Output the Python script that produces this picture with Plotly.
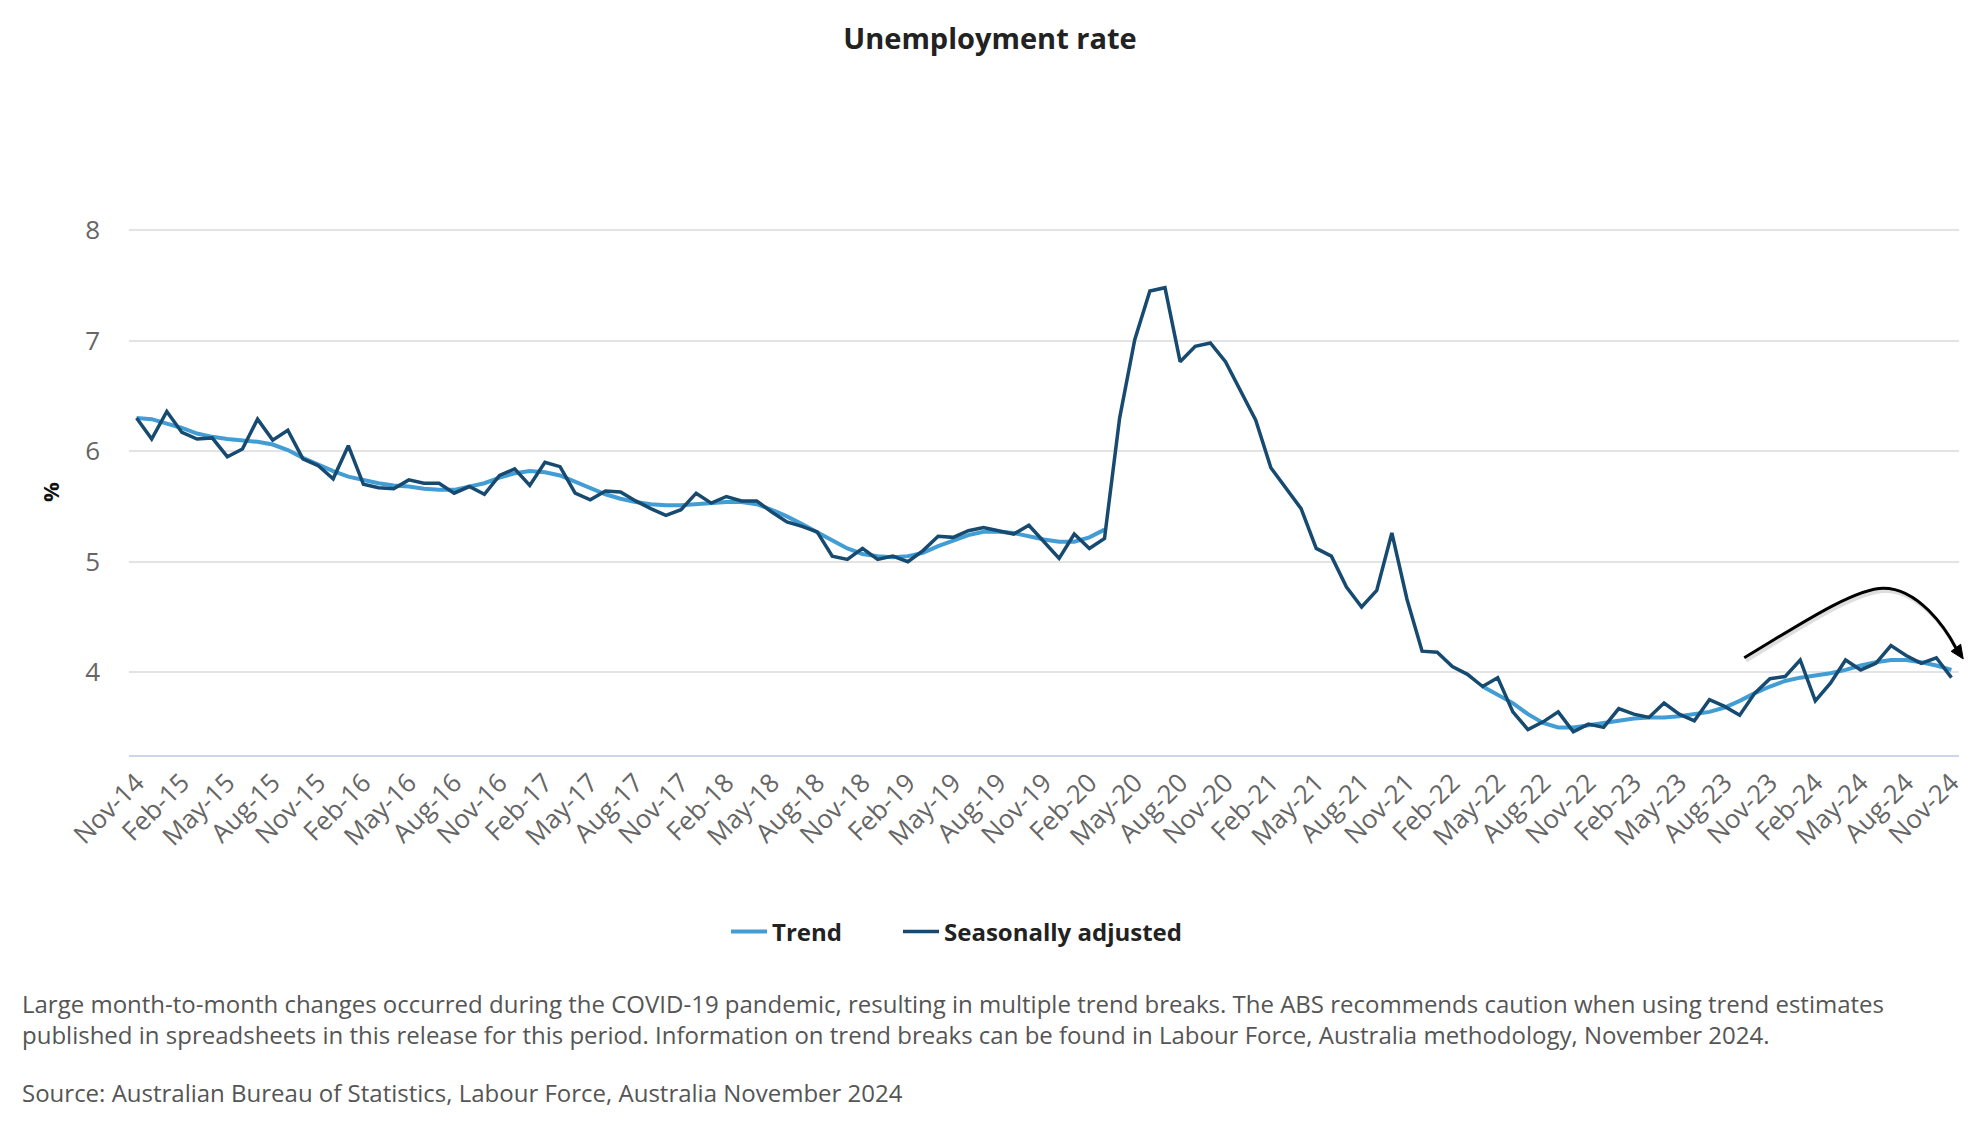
import plotly.graph_objects as go
import pandas as pd

# ---------------- data ----------------
months = pd.date_range("2014-11-01", "2024-11-01", freq="MS").strftime("%b-%y").tolist()
x_idx = list(range(len(months)))

seasonally_adjusted = [
    6.30, 6.11, 6.36, 6.17, 6.11, 6.12, 5.95, 6.02, 6.29, 6.10, 6.19, 5.93,
    5.87, 5.75, 6.05, 5.70, 5.67, 5.66, 5.74, 5.71, 5.71, 5.62, 5.68, 5.61,
    5.78, 5.84, 5.69, 5.90, 5.86, 5.62, 5.56, 5.64, 5.63, 5.55, 5.48, 5.42,
    5.47, 5.62, 5.53, 5.59, 5.55, 5.55, 5.45, 5.36, 5.32, 5.27, 5.05, 5.02,
    5.12, 5.02, 5.05, 5.00, 5.10, 5.23, 5.22, 5.28, 5.31, 5.28, 5.25, 5.33,
    5.18, 5.03, 5.25, 5.12, 5.21, 6.30, 7.01, 7.45, 7.48, 6.81, 6.95, 6.98,
    6.81, 6.54, 6.28, 5.85, 5.67, 5.48, 5.12, 5.05, 4.77, 4.59, 4.74, 5.26,
    4.66, 4.19, 4.18, 4.05, 3.98, 3.87, 3.95, 3.64, 3.48, 3.55, 3.64, 3.46,
    3.53, 3.50, 3.67, 3.62, 3.59, 3.72, 3.62, 3.56, 3.75, 3.69, 3.61, 3.81,
    3.94, 3.96, 4.11, 3.74, 3.90, 4.11, 4.02, 4.08, 4.24, 4.15, 4.08, 4.13,
    3.95,
]

trend = [
    6.30, 6.29, 6.25, 6.21, 6.16, 6.13, 6.11, 6.10, 6.085, 6.06, 6.01, 5.94,
    5.88, 5.82, 5.77, 5.74, 5.71, 5.69, 5.68, 5.66, 5.65, 5.65, 5.68, 5.71,
    5.76, 5.80, 5.82, 5.81, 5.78, 5.72, 5.66, 5.61, 5.57, 5.54, 5.52, 5.51,
    5.51, 5.52, 5.53, 5.54, 5.54, 5.52, 5.47, 5.41, 5.34, 5.27, 5.19, 5.12,
    5.07, 5.05, 5.04, 5.05, 5.08, 5.14, 5.19, 5.24, 5.27, 5.27, 5.26, 5.23,
    5.20, 5.18, 5.18, 5.22, 5.29, None, None, None, None, None, None, None,
    None, None, None, None, None, None, None, None, None, None, None, None,
    None, None, None, None, None, 3.87, 3.80, 3.72, 3.62, 3.54, 3.50, 3.50,
    3.52, 3.54, 3.56, 3.58, 3.59, 3.59, 3.60, 3.62, 3.64, 3.68, 3.74, 3.81,
    3.87, 3.92, 3.95, 3.97, 3.99, 4.02, 4.06, 4.09, 4.11, 4.11, 4.09, 4.06,
    4.02,
]

tick_labels = [
    "Nov-14", "Feb-15", "May-15", "Aug-15", "Nov-15", "Feb-16", "May-16", "Aug-16",
    "Nov-16", "Feb-17", "May-17", "Aug-17", "Nov-17", "Feb-18", "May-18", "Aug-18",
    "Nov-18", "Feb-19", "May-19", "Aug-19", "Nov-19", "Feb-20", "May-20", "Aug-20",
    "Nov-20", "Feb-21", "May-21", "Aug-21", "Nov-21", "Feb-22", "May-22", "Aug-22",
    "Nov-22", "Feb-23", "May-23", "Aug-23", "Nov-23", "Feb-24", "May-24", "Aug-24",
    "Nov-24",
]
tick_positions = [months.index(t) for t in tick_labels]
y_ticks = [4, 5, 6, 7, 8]

# annotation arrow (month index, value) points
arrow_curve = [(106.3, 4.13), (109.5, 4.39), (113.5, 4.76), (115.5, 4.76),
               (117.8, 4.76), (119.6, 4.40), (120.29, 4.22)]
arrow_head = [(120.78, 4.12), (120.61, 4.253), (119.98, 4.188)]

X0, X1 = -0.5, 120.5
Y0, Y1 = 3.25, 8.5

def to_paper(pt, dx=0.0, dy=0.0):
    i, v = pt
    return ((i + dx - X0) / (X1 - X0), (v + dy - Y0) / (Y1 - Y0))

def curve_path(dx=0.0, dy=0.0):
    p = [to_paper(q, dx, dy) for q in arrow_curve]
    s = "M {:.5f} {:.5f}".format(*p[0])
    s += " C {:.5f} {:.5f}, {:.5f} {:.5f}, {:.5f} {:.5f}".format(*p[1], *p[2], *p[3])
    s += " C {:.5f} {:.5f}, {:.5f} {:.5f}, {:.5f} {:.5f}".format(*p[4], *p[5], *p[6])
    return s

def head_path(dx=0.0, dy=0.0):
    p = [to_paper(q, dx, dy) for q in arrow_head]
    return "M {:.5f} {:.5f} L {:.5f} {:.5f} L {:.5f} {:.5f} Z".format(*p[0], *p[1], *p[2])

FONT = "Open Sans"
TREND_COLOR = "#429dd5"
SA_COLOR = "#164a70"

# page has an 8px body margin: compensate so the chart sits where the reference does
OFF = 8
PL, PR, PT, PB = 129, 1959, 175, 755   # target plot box in page pixels
PW, PH = PR - PL, PB - PT

def px_x(p):
    return (p - PL) / PW

def px_y(p):
    return (PB - p) / PH

fig = go.Figure()
fig.add_trace(go.Scatter(
    x=x_idx, y=trend, name="Trend", mode="lines",
    line=dict(color=TREND_COLOR, width=4), connectgaps=False, legend="legend",
))
fig.add_trace(go.Scatter(
    x=x_idx, y=seasonally_adjusted, name="Seasonally adjusted", mode="lines",
    line=dict(color=SA_COLOR, width=3.5), legend="legend2",
))

shapes = [
    dict(type="path", xref="paper", yref="paper", path=curve_path(0.12, -0.025),
         line=dict(color="rgba(0,0,0,0.13)", width=4), layer="above"),
    dict(type="path", xref="paper", yref="paper", path=curve_path(),
         line=dict(color="#000000", width=3), layer="above"),
    dict(type="path", xref="paper", yref="paper", path=head_path(),
         line=dict(color="#000000", width=1), fillcolor="#000000", layer="above"),
]

NOTE_FONT = dict(family=FONT, size=24, color="#555555")
annotations = [
    dict(text="%", textangle=-90, xref="paper", yref="paper",
         x=px_x(50), y=px_y(492), showarrow=False,
         font=dict(family=FONT, size=22, color="#111111", weight="bold"),
         xanchor="center", yanchor="middle"),
    dict(text="Large month-to-month changes occurred during the COVID-19 pandemic, resulting in multiple trend breaks. The ABS recommends caution when using trend estimates"
              "<br>published in spreadsheets in this release for this period. Information on trend breaks can be found in Labour Force, Australia methodology, November 2024.",
         xref="paper", yref="paper", x=px_x(20), y=px_y(1018.5),
         xanchor="left", yanchor="middle", showarrow=False, align="left",
         font=NOTE_FONT),
    dict(text="Source: Australian Bureau of Statistics, Labour Force, Australia November 2024",
         xref="paper", yref="paper", x=px_x(20), y=px_y(1092),
         xanchor="left", yanchor="middle", showarrow=False, align="left",
         font=NOTE_FONT),
]

LEG_FONT = dict(family=FONT, size=24, color="#222222", weight="bold")

fig.update_layout(
    width=1980, height=1140,
    margin=dict(l=PL - OFF, r=1980 - (PR - OFF), t=PT - OFF, b=1140 - (PB - OFF)),
    paper_bgcolor="white", plot_bgcolor="white",
    font=dict(family=FONT),
    title=dict(text="<b>Unemployment rate</b>", x=(990 - OFF) / 1980, xanchor="center",
               y=1 - (39 - OFF) / 1140, yanchor="middle",
               font=dict(family=FONT, size=29, color="#222222")),
    showlegend=True,
    legend=dict(orientation="h", x=px_x(726), xanchor="left",
                y=px_y(932), yanchor="middle", font=LEG_FONT, itemwidth=36),
    legend2=dict(orientation="h", x=px_x(898), xanchor="left",
                 y=px_y(932), yanchor="middle", font=LEG_FONT, itemwidth=36),
    xaxis=dict(range=[X0, X1], tickmode="array", tickvals=tick_positions,
               ticktext=tick_labels, tickangle=-45, showgrid=False,
               showline=True, linecolor="#ccd6eb", linewidth=2, ticks="",
               zeroline=False,
               tickfont=dict(family=FONT, size=26, color="#666666")),
    yaxis=dict(range=[Y0, Y1], tickmode="array", tickvals=y_ticks,
               showgrid=True, gridcolor="#e3e3e3", gridwidth=1.5,
               zeroline=False, showline=False, ticks="",
               ticklabelstandoff=28,
               tickfont=dict(family=FONT, size=26, color="#666666")),
    shapes=shapes,
    annotations=annotations,
)

fig.write_html("out.html")
